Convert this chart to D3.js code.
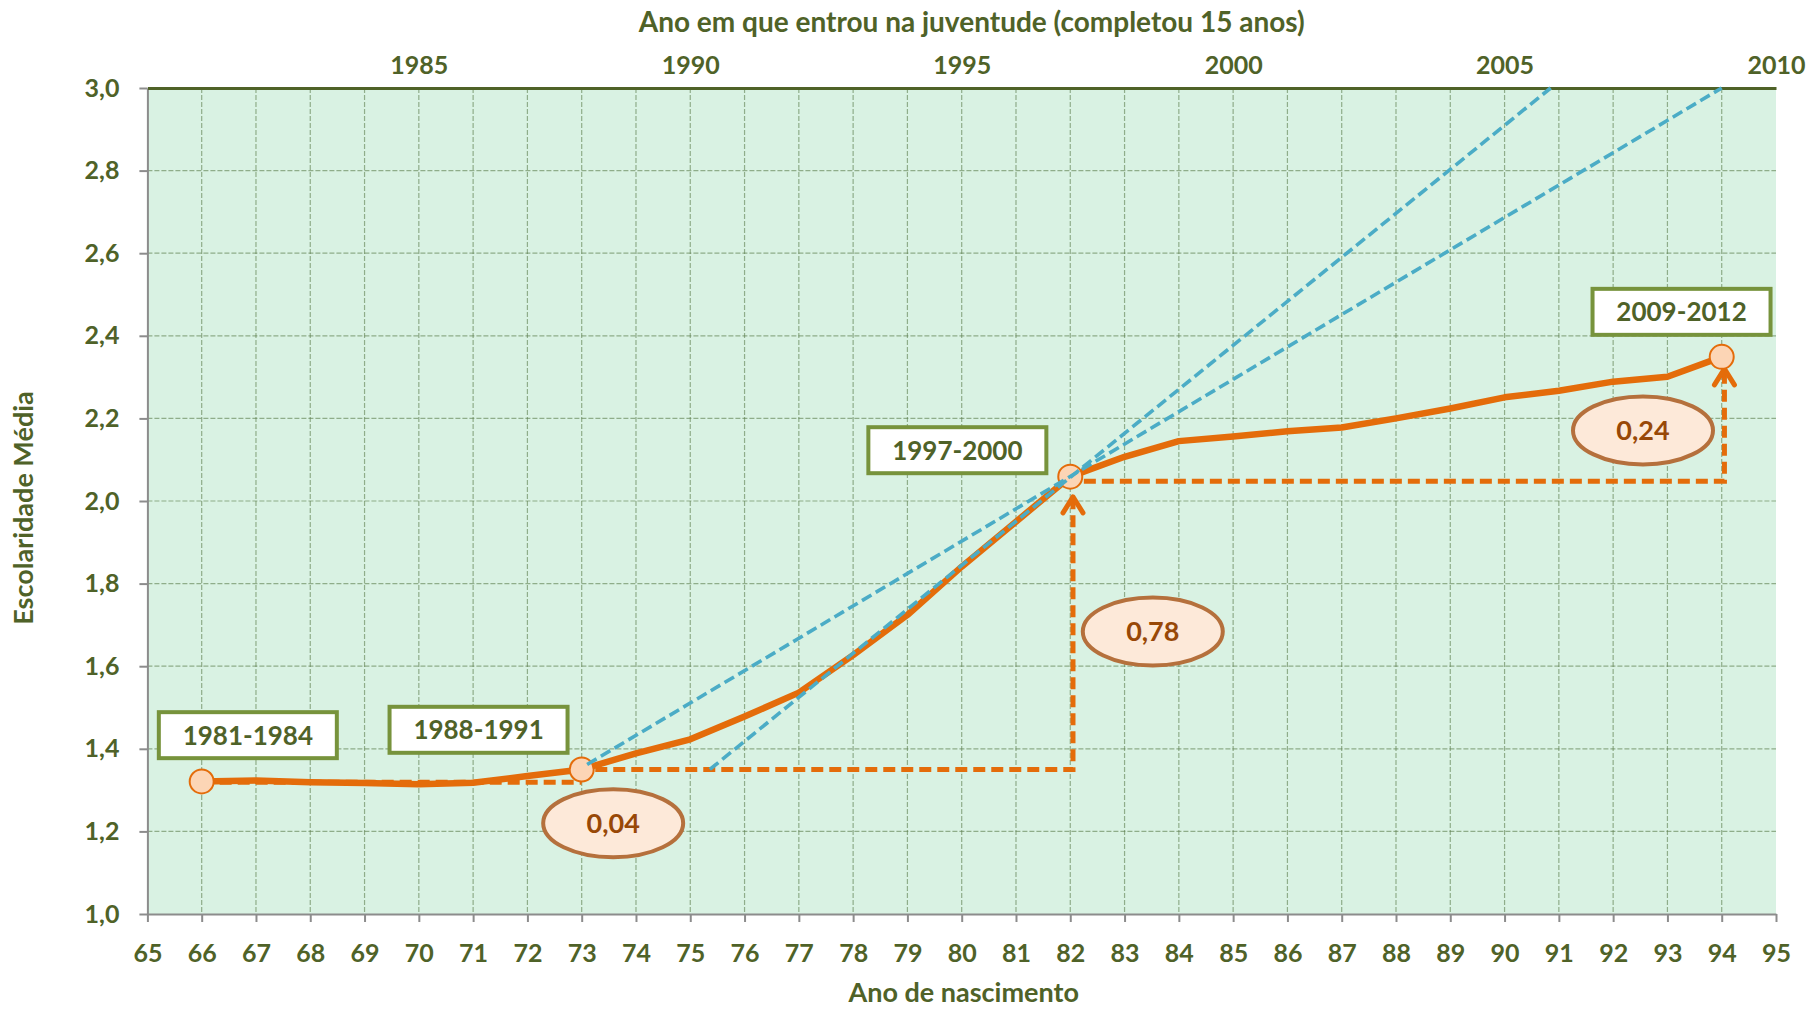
<!DOCTYPE html>
<html>
<head>
<meta charset="utf-8">
<script src="https://cdn.jsdelivr.net/npm/d3@7"></script>
<style>
    body { margin: 0; background: #fff; }
    text { font-family: Lato, "Open Sans", sans-serif; font-weight: bold; fill: #4F6228; }
</style>
</head>
<body>
<div id="chart-area"></div>
<script>

// birth year (19xx) and average schooling
let birthYears = [66, 67, 68, 69, 70, 71, 72, 73, 74, 75, 76, 77, 78, 79, 80,
    81, 82, 83, 84, 85, 86, 87, 88, 89, 90, 91, 92, 93, 94];
let schooling = [1.321, 1.323, 1.319, 1.317, 1.314, 1.318, 1.334, 1.350, 1.389, 1.423, 1.478, 1.536, 1.627, 1.724, 1.841,
    1.950, 2.059, 2.107, 2.145, 2.156, 2.169, 2.178, 2.200, 2.224, 2.251, 2.267, 2.289, 2.301, 2.349];

// highlighted birth years (circles) and the period each one stands for
let markedYears = [66, 73, 82, 94];
let periods = ["1981-1984", "1988-1991", "1997-2000", "2009-2012"];
let periodAnchors = [[66.85, 1.433], [71.10, 1.446], [79.92, 2.123], [93.26, 2.458]];

// growth between periods
let gains = ["0,04", "0,78", "0,24"];
let gainAnchors = [[73.58, 1.220], [83.52, 1.684], [92.55, 2.171]];

// dashed helper lines (x = birth year, y = schooling)
let stepLines = [
    [[66, 1.319], [73, 1.319]],
    [[73.25, 1.35], [82.05, 1.35], [82.05, 2.01]],
    [[82.25, 2.048], [94.05, 2.048], [94.05, 2.32]]
];
let arrowTips = [[82.05, 2.01], [94.05, 2.32]];
let trendLines = [
    [[73.1, 1.362], [94, 3.0]],
    [[75.36, 1.35], [90.85, 3.0]]
];

// axis ticks
let xTicks = d3.range(65, 96);
let yTicks = [1.0, 1.2, 1.4, 1.6, 1.8, 2.0, 2.2, 2.4, 2.6, 2.8, 3.0];
let topTicks = [70, 75, 80, 85, 90, 95];


class LineChart {

    constructor(parentElement) {
        this.parentElement = parentElement;
        this.data = birthYears.map((d, i) => ({year: d, value: schooling[i]}));
        this.initVis();
    }

    initVis() {
        let vis = this;

        vis.margin = {top: 88, right: 34, bottom: 96, left: 147.4};
        vis.width = 1810 - vis.margin.left - vis.margin.right;
        vis.height = 1010 - vis.margin.top - vis.margin.bottom;

        vis.root = d3.select('#' + vis.parentElement)
            .append('svg')
            .attr("width", 1810)
            .attr("height", 1010);

        vis.svg = vis.root.append("g")
            .attr("transform", "translate(" + vis.margin.left + "," + vis.margin.top + ")");

        vis.x = d3.scaleLinear().domain([65, 95]).range([0, vis.width]);
        vis.y = d3.scaleLinear().domain([1, 3]).range([vis.height, 0]);

        let comma = d => d3.format(".1f")(d).replace(".", ",");

        // plot area
        vis.svg.append("rect")
            .attr("width", vis.width)
            .attr("height", vis.height)
            .attr("fill", "#D9F2E3");

        // grid
        vis.svg.selectAll(".vgrid").data(xTicks.slice(1, -1))
            .enter().append("line")
            .attr("class", "vgrid")
            .attr("x1", d => vis.x(d)).attr("x2", d => vis.x(d))
            .attr("y1", 0).attr("y2", vis.height)
            .attr("stroke", "#5E7F4E").attr("stroke-opacity", 0.6)
            .attr("stroke-width", 1.2).attr("stroke-dasharray", "5,2");

        vis.svg.selectAll(".hgrid").data(yTicks.slice(1, -1))
            .enter().append("line")
            .attr("class", "hgrid")
            .attr("x1", 0).attr("x2", vis.width)
            .attr("y1", d => vis.y(d)).attr("y2", d => vis.y(d))
            .attr("stroke", "#5E7F4E").attr("stroke-opacity", 0.6)
            .attr("stroke-width", 1.2).attr("stroke-dasharray", "5,2");

        // axes
        let yAxis = d3.axisLeft(vis.y).tickValues(yTicks).tickFormat(comma)
            .tickSize(8).tickPadding(20).tickSizeOuter(0);
        let xAxis = d3.axisBottom(vis.x).tickValues(xTicks)
            .tickSize(8).tickPadding(22).tickSizeOuter(0);
        let topAxis = d3.axisTop(vis.x).tickValues(topTicks).tickFormat(d => 1915 + d)
            .tickSize(0).tickPadding(14).tickSizeOuter(0);

        vis.svg.append("g").attr("class", "y-axis").call(yAxis);
        vis.svg.append("g").attr("class", "x-axis")
            .attr("transform", "translate(0," + vis.height + ")").call(xAxis);
        vis.svg.append("g").attr("class", "top-axis").call(topAxis);

        vis.svg.selectAll(".y-axis path, .y-axis line, .x-axis path, .x-axis line")
            .attr("stroke", "#8C8C8C").attr("stroke-width", 2);
        vis.svg.select(".top-axis path").attr("stroke", "#4F6228").attr("stroke-width", 3);
        vis.svg.selectAll(".tick text")
            .attr("font-size", 25).attr("font-family", null)
            .style("fill", "#4F6228");

        // titles
        vis.root.append("text")
            .attr("x", vis.margin.left + vis.width / 2 + 10).attr("y", 32)
            .attr("text-anchor", "middle").attr("font-size", 28)
            .text("Ano em que entrou na juventude (completou 15 anos)");

        vis.root.append("text")
            .attr("x", vis.margin.left + vis.width / 2 + 2).attr("y", 1002)
            .attr("text-anchor", "middle").attr("font-size", 27)
            .text("Ano de nascimento");

        vis.root.append("text")
            .attr("transform", "translate(33,508) rotate(-90)")
            .attr("text-anchor", "middle").attr("font-size", 27)
            .text("Escolaridade Média");

        vis.updateVis();
    }

    updateVis() {
        let vis = this;

        let line = d3.line().x(d => vis.x(d[0])).y(d => vis.y(d[1]));

        // orange step guides
        vis.svg.selectAll(".step").data(stepLines)
            .enter().append("path")
            .attr("class", "step")
            .attr("d", line)
            .attr("fill", "none")
            .attr("stroke", "#E46C0A").attr("stroke-width", 5)
            .attr("stroke-dasharray", "12,6");

        vis.svg.selectAll(".arrow").data(arrowTips)
            .enter().append("path")
            .attr("class", "arrow")
            .attr("d", d => {
                let px = vis.x(d[0]), py = vis.y(d[1]);
                return "M" + (px - 10) + "," + (py + 16) + "L" + px + "," + py + "L" + (px + 10) + "," + (py + 16);
            })
            .attr("fill", "none")
            .attr("stroke", "#E46C0A").attr("stroke-width", 5)
            .attr("stroke-linecap", "round").attr("stroke-linejoin", "round");

        // main series
        vis.svg.append("path")
            .datum(vis.data)
            .attr("d", d3.line().x(d => vis.x(d.year)).y(d => vis.y(d.value)))
            .attr("fill", "none")
            .attr("stroke", "#E46C0A").attr("stroke-width", 6.5)
            .attr("stroke-linejoin", "round");

        let marked = vis.data.filter(d => markedYears.includes(d.year));
        vis.svg.selectAll(".marker").data(marked)
            .enter().append("circle")
            .attr("class", "marker")
            .attr("cx", d => vis.x(d.year))
            .attr("cy", d => vis.y(d.value))
            .attr("r", 12)
            .attr("fill", "#FCD5B5")
            .attr("stroke", "#E46C0A").attr("stroke-width", 2);

        // blue trend lines
        vis.svg.selectAll(".trend").data(trendLines)
            .enter().append("path")
            .attr("class", "trend")
            .attr("d", line)
            .attr("fill", "none")
            .attr("stroke", "#4BACC6").attr("stroke-width", 3.6)
            .attr("stroke-dasharray", "11,5");

        // period boxes
        let boxes = vis.svg.selectAll(".period").data(periods)
            .enter().append("g")
            .attr("class", "period")
            .attr("transform", (d, i) => "translate(" + vis.x(periodAnchors[i][0]) + "," + vis.y(periodAnchors[i][1]) + ")");

        boxes.append("rect")
            .attr("x", -89).attr("y", -23)
            .attr("width", 178).attr("height", 46)
            .attr("fill", "#fff")
            .attr("stroke", "#77933C").attr("stroke-width", 4);

        boxes.append("text")
            .attr("text-anchor", "middle").attr("dy", "0.36em")
            .attr("font-size", 26)
            .text(d => d);

        // gain ellipses
        let gainsG = vis.svg.selectAll(".gain").data(gains)
            .enter().append("g")
            .attr("class", "gain")
            .attr("transform", (d, i) => "translate(" + vis.x(gainAnchors[i][0]) + "," + vis.y(gainAnchors[i][1]) + ")");

        gainsG.append("ellipse")
            .attr("rx", 70).attr("ry", 34)
            .attr("fill", "#FDE9D9")
            .attr("stroke", "#B5703C").attr("stroke-width", 4);

        gainsG.append("text")
            .attr("text-anchor", "middle").attr("dy", "0.36em")
            .attr("font-size", 27)
            .style("fill", "#984807")
            .text(d => d);
    }
}

new LineChart("chart-area");

</script>
</body>
</html>
